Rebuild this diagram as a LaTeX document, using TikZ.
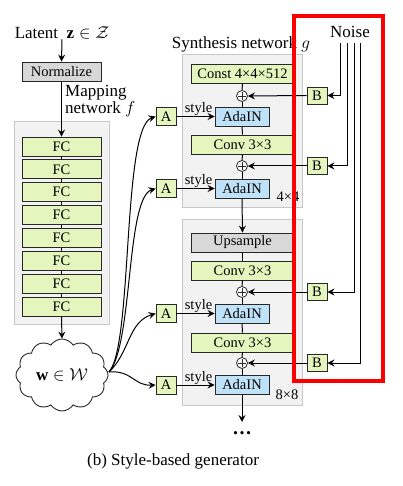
\documentclass[tikz,border=0pt]{standalone}
\usepackage{fontspec}
\setmainfont{Liberation Serif}
\usetikzlibrary{arrows.meta,shapes.symbols}
\definecolor{fcgreen}{RGB}{228,246,190}
\definecolor{adablue}{RGB}{192,226,248}
\definecolor{opgray}{RGB}{216,216,216}
\definecolor{grpfill}{RGB}{242,242,242}
\definecolor{grpline}{RGB}{200,200,200}
\definecolor{edge}{RGB}{40,40,40}
\definecolor{hlred}{RGB}{250,0,0}
\begin{document}
\begin{tikzpicture}[x=1pt,y=-1pt,
  box/.style={draw=edge, line width=0.9pt, minimum height=19pt, inner sep=0pt, font=\fontsize{14.5}{16}\selectfont},
  fcbox/.style={box, fill=fcgreen, minimum width=79pt},
  widebox/.style={box, fill=fcgreen, minimum width=102pt},
  graybox/.style={box, fill=opgray},
  adabox/.style={box, fill=adablue, minimum width=54pt},
  abox/.style={box, fill=fcgreen, minimum width=20pt, minimum height=18pt},
  grp/.style={fill=grpfill, draw=grpline, line width=1pt},
  lbl/.style={font=\fontsize{17}{18}\selectfont, inner sep=0pt},
  small/.style={font=\fontsize{14.5}{16}\selectfont, inner sep=0pt},
  plus/.style={draw=edge, fill=white, circle, line width=0.8pt, minimum size=11pt, inner sep=0pt,
    path picture={\draw[edge, line width=0.7pt] ([yshift=-3.6pt]path picture bounding box.center) -- ([yshift=3.6pt]path picture bounding box.center)
      ([xshift=-3.6pt]path picture bounding box.center) -- ([xshift=3.6pt]path picture bounding box.center);}},
  arr/.style={-{Stealth[length=7pt,width=7pt,inset=2.5pt]}, line width=1pt, draw=black},
  ln/.style={line width=1pt, draw=black}
]
\useasboundingbox (0,0) rectangle (402,486);

% group backgrounds
\path[grp] (14,122) rectangle (109,324);
\path[grp] (182,55) rectangle (302,207);
\path[grp] (182,219) rectangle (302,405);

% mapping network
\node[lbl] (latent) at (62,33) {Latent\ \ $\mathbf{z}\in\mathcal{Z}$};
\node[graybox, minimum width=79pt] (norm) at (61.5,71.5) {Normalize};
\node[lbl, anchor=west, align=left] (maplbl) at (65,101) {Mapping\\[-1pt]network $f$};
\foreach \i in {1,...,8} {
  \node[fcbox] (fc\i) at (61.5,{146.5+22.86*(\i-1)}) {FC};
}
\node[cloud, draw=edge, fill=white, line width=0.9pt, cloud puffs=12, cloud puff arc=115, aspect=1.25,
  minimum width=92pt, minimum height=72pt, inner sep=0pt, font=\fontsize{17}{18}\selectfont] (w) at (62,375) {$\mathbf{w}\in\mathcal{W}$};

\draw[arr] (latent.south) -- (norm.north);
\draw[arr] (norm.south) -- (fc1.north);
\foreach \i/\j in {1/2,2/3,3/4,4/5,5/6,6/7,7/8} { \draw[ln] (fc\i.south) -- (fc\j.north); }
\draw[arr] (fc8.south) -- (w.north);

% synthesis network
\node[lbl] (synlbl) at (241,44) {Synthesis network $g$};
\node[widebox] (const) at (242.5,73.5) {Const 4×4×512};
\node[plus] (p1) at (242,96) {};
\node[adabox] (ada1) at (242,116.5) {AdaIN};
\node[widebox] (conv1) at (242.5,144.5) {Conv 3×3};
\node[plus] (p2) at (242,166) {};
\node[adabox] (ada2) at (242,188.5) {AdaIN};
\node[small] (g1) at (288,197) {4×4};

\node[graybox, minimum width=102pt] (ups) at (242.5,242.5) {Upsample};
\node[widebox] (conv2) at (242.5,270.5) {Conv 3×3};
\node[plus] (p3) at (242,292) {};
\node[adabox] (ada3) at (242,313.5) {AdaIN};
\node[widebox] (conv3) at (242.5,342.5) {Conv 3×3};
\node[plus] (p4) at (242,363) {};
\node[adabox] (ada4) at (242,385) {AdaIN};
\node[small] (g2) at (287,395) {8×8};
\coordinate (out) at (242,422);
\node[font=\fontsize{20}{20}\selectfont\bfseries, inner sep=0pt] (dots) at (242,433) {.\hspace{1.5pt}.\hspace{1.5pt}.};

\draw[ln] (const.south) -- (p1.north);
\draw[ln] (p1.south) -- (ada1.north);
\draw[ln] (ada1.south) -- (conv1.north);
\draw[ln] (conv1.south) -- (p2.north);
\draw[ln] (p2.south) -- (ada2.north);
\draw[arr] (ada2.south) -- (ups.north);
\draw[ln] (ups.south) -- (conv2.north);
\draw[ln] (conv2.south) -- (p3.north);
\draw[ln] (p3.south) -- (ada3.north);
\draw[ln] (ada3.south) -- (conv3.north);
\draw[ln] (conv3.south) -- (p4.north);
\draw[ln] (p4.south) -- (ada4.north);
\draw[arr] (ada4.south) -- (out);

% A boxes
\foreach \k/\y in {1/116.5,2/188.5,3/313.5,4/385} {
  \node[abox] (A\k) at (166,\y) {A};
  \draw[arr] (A\k.east) -- node[pos=0.58, above=0.3pt, small] {style} (ada\k.west);
}
% style curves
\coordinate (wo) at (109,372);
\draw[arr] (wo) .. controls (133,345) and (122,128) .. (A1.west);
\draw[arr] (wo) .. controls (133,345) and (126,198) .. (A2.west);
\draw[arr] (wo) .. controls (130,352) and (128,322) .. (A3.west);
\draw[arr] (wo) .. controls (132,370) and (134,386) .. (A4.west);

% noise
\node[lbl] (noise) at (350,32) {Noise};
\foreach \k/\y/\x in {1/95.5/340.5,2/166/347.3,3/292/354,4/363/360.7} {
  \node[abox, minimum height=17pt] (B\k) at (317,\y) {B};
  \coordinate (n\k) at (\x,43);
  \draw[arr] (n\k) |- (B\k.east);
  \draw[arr] (B\k.west) -- (p\k.east);
}

% highlight
\draw[hlred, line width=4pt] (294,16) rectangle (383,381);
\node[lbl] (cap) at (173,461) {(b) Style-based generator};
\end{tikzpicture}
\end{document}
